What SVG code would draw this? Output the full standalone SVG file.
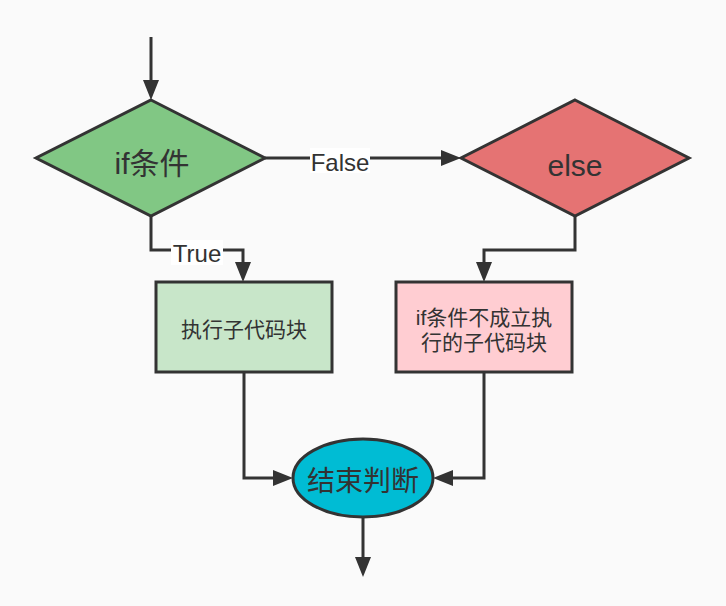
<svg xmlns="http://www.w3.org/2000/svg" width="726" height="606" viewBox="0 0 726 606">
<style>
.shape{stroke:#333333;stroke-width:3}
.conn{fill:none;stroke:#333333;stroke-width:3}
.t{fill:#333333;font-family:"Liberation Sans","Noto Sans CJK SC",sans-serif;text-anchor:middle}
.lbl{fill:#333333;font-family:"Liberation Sans","Noto Sans CJK SC",sans-serif;font-size:24px;text-anchor:middle}
</style>
<defs>
<marker id="arr" markerUnits="userSpaceOnUse" markerWidth="20" markerHeight="16" refX="0" refY="8" orient="auto" viewBox="0 0 20 16">
<path d="M0,0 L20,8 L0,16 z" fill="#333333"/>
</marker>
</defs>
<rect width="726" height="606" fill="#fafafa"/>
<g id="connectors">
<path class="conn" d="M151,37 V80" marker-end="url(#arr)"/>
<path class="conn" d="M151,216 V250 H243 V262" marker-end="url(#arr)"/>
<path class="conn" d="M265,158 H441" marker-end="url(#arr)"/>
<path class="conn" d="M575,216 V250 H484 V262" marker-end="url(#arr)"/>
<path class="conn" d="M244,372 V478 H273" marker-end="url(#arr)"/>
<path class="conn" d="M484,372 V478 H453" marker-end="url(#arr)"/>
<path class="conn" d="M363,517 V557" marker-end="url(#arr)"/>
<g id="label-true">
<rect x="171" y="240" width="52" height="25" fill="#ffffff"/>
<text class="lbl" x="197" y="262">True</text>
</g>
<g id="label-false">
<rect x="310" y="148" width="60" height="25" fill="#ffffff"/>
<text class="lbl" x="340" y="171">False</text>
</g>
</g>
<g id="node-if">
<polygon class="shape" points="151,100 265,158 151,216 36,158" fill="#81c784"/>
<text class="t" x="152" y="174" font-size="30">if条件</text>
</g>
<g id="node-else">
<polygon class="shape" points="575,100 689,158 575,216 461,158" fill="#e57373"/>
<text class="t" x="575" y="176" font-size="30">else</text>
</g>
<g id="node-true-block">
<rect class="shape" x="156" y="282" width="176" height="90" fill="#c8e6c9"/>
<text class="t" x="244" y="337" font-size="21">执行子代码块</text>
</g>
<g id="node-false-block">
<rect class="shape" x="396" y="282" width="176" height="90" fill="#ffcdd2"/>
<text class="t" x="484" y="325" font-size="21">if条件不成立执</text>
<text class="t" x="484" y="350" font-size="21">行的子代码块</text>
</g>
<g id="node-end">
<ellipse class="shape" cx="363" cy="478" rx="70" ry="39" fill="#00bcd4"/>
<text class="t" x="363" y="491" font-size="28">结束判断</text>
</g>
</svg>
